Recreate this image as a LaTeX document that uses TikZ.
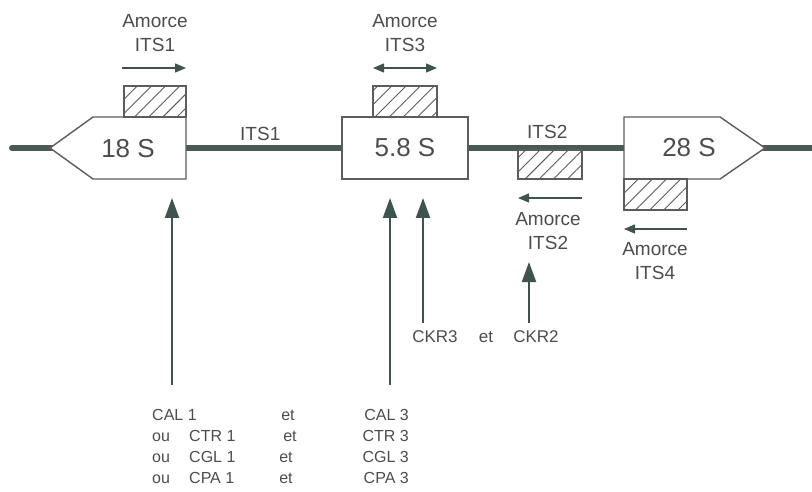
\documentclass[tikz,border=0pt]{standalone}
\usepackage{fontspec}
\setmainfont{Liberation Sans}
\usetikzlibrary{arrows.meta,positioning,patterns.meta}
\definecolor{Strand}{HTML}{485A57}
\definecolor{Pointer}{HTML}{3F5350}
\definecolor{Edge}{HTML}{5C5C5C}
\definecolor{Ink}{HTML}{4D4D4D}
\tikzset{
 strand/.style={draw=Strand, line width=6pt, line cap=round},
 gene/.style={draw=Edge, fill=white, line width=1.4pt},
 genetext/.style={font=\fontsize{26}{28}\selectfont, text=Ink, inner sep=0pt},
 primer/.style={draw=Edge, line width=1.3pt, pattern={Lines[angle=45,distance=10pt,line width=0.9pt]}, pattern color=Edge},
 amorce/.style={font=\fontsize{19}{24}\selectfont, text=Ink, align=center, inner sep=0pt},
 spacer/.style={font=\fontsize{19}{21}\selectfont, text=Ink, inner sep=0pt},
 strain/.style={font=\fontsize{16}{18}\selectfont, text=Ink, inner sep=0pt},
 smallarrow/.style={-{Triangle[length=11pt,width=9pt]}, draw=Pointer, line width=1.4pt},
 bigarrow/.style={-{Triangle[length=20pt,width=14pt]}, draw=Pointer, line width=2pt}
}
\begin{document}
\begin{tikzpicture}[x=1pt,y=-1pt]
\useasboundingbox[fill=white] (0,0) rectangle (812,492);
% rDNA strand
\coordinate (lend) at (12,148);
\coordinate (rend) at (815,148);
\draw[strand] (lend) -- (rend);
% genes
\draw[gene] (50,148) -- (93,117) -- (186,117) -- (186,179) -- (93,179) -- cycle;
\node[genetext, anchor=base] (g18) at (128,158) {18 S};
\node[gene, genetext, minimum width=126pt, minimum height=62pt] (g58) at (405,148) {5.8 S};
\draw[gene] (624,117) -- (720,117) -- (765,148) -- (720,179) -- (624,179) -- cycle;
\node[genetext, anchor=base] (g28) at (689,157) {28 S};
\node[spacer, anchor=base west] (its1) at (240,141) {ITS1};
\node[spacer, anchor=base west] (its2) at (527,139) {ITS2};
% primer sites
\draw[primer] (124,86) rectangle (186,117);
\draw[primer] (373,86) rectangle (437,117);
\draw[primer] (518,150) rectangle (582,179);
\draw[primer] (624,179) rectangle (687,210);
% primers
\node[amorce] (am1) at (155,33) {Amorce\\ITS1};
\node[amorce] (am3) at (405,33) {Amorce\\ITS3};
\node[amorce] (am2) at (548,231) {Amorce\\ITS2};
\node[amorce] (am4) at (655,261) {Amorce\\ITS4};
\coordinate (p1a) at (122,68); \coordinate (p1b) at (186,68);
\coordinate (p3a) at (373,68); \coordinate (p3b) at (437,68);
\coordinate (p2a) at (582,198); \coordinate (p2b) at (518,198);
\coordinate (p4a) at (687,229); \coordinate (p4b) at (624,229);
\draw[smallarrow] (p1a) -- (p1b);
\draw[smallarrow, {Triangle[length=11pt,width=9pt]}-{Triangle[length=11pt,width=9pt]}] (p3a) -- (p3b);
\draw[smallarrow] (p2a) -- (p2b);
\draw[smallarrow] (p4a) -- (p4b);
% CKR strains
\node[strain, font=\fontsize{17}{19}\selectfont] (ckr3) at (435,337) {CKR3};
\node[strain, font=\fontsize{17}{19}\selectfont] (ckret) at (486,337) {et};
\node[strain, font=\fontsize{17}{19}\selectfont] (ckr2) at (536,337) {CKR2};
\coordinate (c3foot) at (423,323); \coordinate (c3tip) at (423,198);
\coordinate (c2foot) at (529,323); \coordinate (c2tip) at (529,262);
\draw[bigarrow] (c3foot) -- (c3tip);
\draw[bigarrow] (c2foot) -- (c2tip);
% other strains
\coordinate (s1foot) at (172,385); \coordinate (s1tip) at (172,198);
\coordinate (s3foot) at (390,385); \coordinate (s3tip) at (390,198);
\draw[bigarrow] (s1foot) -- (s1tip);
\draw[bigarrow] (s3foot) -- (s3tip);
\foreach \i/\pre/\gen/\gx/\ex/\by in {1//CAL/152/288/420, 2/ou/CTR/189/290/441, 3/ou/CGL/189/286/462, 4/ou/CPA/189/286/483}{
 \node[strain, anchor=base west] (ou\i) at (152,\by) {\pre};
 \node[strain, anchor=base west] (left\i) at (\gx,\by) {\gen~1};
 \node[strain, anchor=base] (et\i) at (\ex,\by) {et};
 \node[strain, anchor=base east] (right\i) at (409,\by) {\gen~3};
}
\end{tikzpicture}
\end{document}
